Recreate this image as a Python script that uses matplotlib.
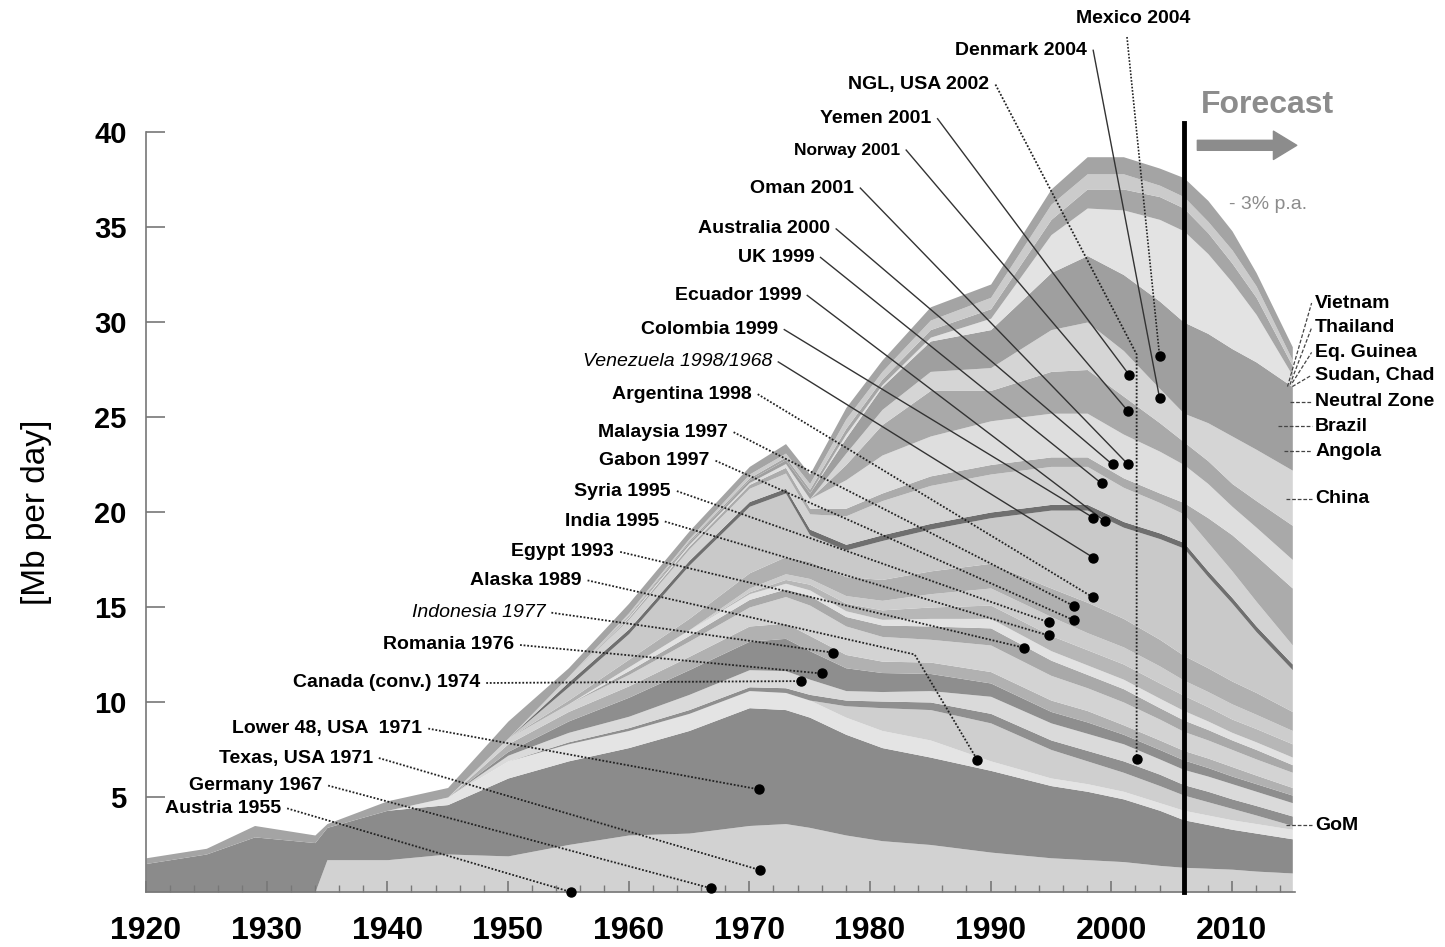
import numpy as np
import matplotlib.pyplot as plt
from matplotlib.patches import FancyArrowPatch

plt.rcParams['font.family'] = ['Liberation Sans', 'DejaVu Sans']

years = [1920, 1925, 1929, 1934, 1935, 1940, 1945, 1950, 1955, 1960, 1965, 1970, 1973,
         1975, 1978, 1981, 1985, 1990, 1995, 1998, 2001, 2004, 2006, 2008, 2010, 2012, 2015]

# upper edge of every band in Mb per day, bottom band first
texas = [0, 0, 0, 0, 1.7, 1.7, 2.0, 1.9, 2.5, 3.0, 3.1, 3.5, 3.6,
         3.4, 3.0, 2.7, 2.5, 2.1, 1.8, 1.7, 1.6, 1.4, 1.3, 1.25, 1.2, 1.1, 1.0]
lower48 = [1.5, 2.0, 2.9, 2.6, 3.4, 4.3, 4.6, 6.0, 6.9, 7.6, 8.5, 9.7, 9.6,
           9.2, 8.3, 7.6, 7.1, 6.4, 5.6, 5.3, 4.9, 4.3, 3.8, 3.55, 3.3, 3.1, 2.8]
germany = [1.5, 2.0, 2.9, 2.6, 3.4, 4.3, 5.0, 6.9, 7.8, 8.5, 9.4, 10.6, 10.5,
           10.1, 9.2, 8.5, 8.0, 6.9, 6.0, 5.7, 5.3, 4.7, 4.3, 4.05, 3.8, 3.6, 3.3]
alaska = [1.5, 2.0, 2.9, 2.6, 3.4, 4.3, 5.0, 6.9, 7.8, 8.5, 9.4, 10.6, 10.5,
          10.1, 9.8, 9.7, 9.6, 8.9, 7.5, 6.9, 6.3, 5.6, 5.1, 4.75, 4.4, 4.05, 3.5]
gom = [1.5, 2.0, 2.9, 2.6, 3.4, 4.3, 5.0, 6.9, 7.9, 8.65, 9.6, 10.8, 10.75,
       10.4, 10.1, 10.05, 10.0, 9.4, 8.0, 7.45, 6.9, 6.2, 5.65, 5.3, 4.9, 4.55, 4.0]
austria = [1.5, 2.0, 2.9, 2.6, 3.4, 4.3, 5.0, 7.2, 8.4, 9.25, 10.4, 11.7, 11.65,
           11.2, 10.6, 10.55, 10.6, 10.3, 8.9, 8.35, 7.8, 7.0, 6.45, 6.1, 5.7, 5.3, 4.7]
canada = [1.5, 2.0, 2.9, 2.6, 3.4, 4.3, 5.0, 7.4, 9.0, 10.25, 11.7, 13.2, 13.35,
          12.7, 11.8, 11.55, 11.5, 11.0, 9.5, 8.95, 8.3, 7.5, 6.95, 6.55, 6.1, 5.7, 5.1]
romania = [1.5, 2.0, 2.9, 2.6, 3.4, 4.3, 5.0, 7.8, 9.5, 10.85, 12.4, 14.0, 14.15,
           13.5, 12.5, 12.15, 12.1, 11.6, 10.1, 9.55, 8.8, 8.0, 7.45, 7.05, 6.6, 6.15, 5.5]
indonesia = [1.5, 2.0, 2.9, 2.6, 3.4, 4.3, 5.0, 8.1, 9.9, 11.45, 13.2, 15.0, 15.55,
             15.1, 14.0, 13.45, 13.3, 13.0, 11.4, 10.75, 10.0, 9.1, 8.45, 8.0, 7.5, 7.0, 6.3]
egypt = [1.5, 2.0, 2.9, 2.6, 3.4, 4.3, 5.0, 8.1, 9.9, 11.65, 13.5, 15.4, 15.95,
         15.6, 14.5, 14.05, 14.0, 13.9, 12.2, 11.45, 10.7, 9.7, 9.05, 8.55, 8.0, 7.5, 6.7]
peru = [1.5, 2.0, 2.9, 2.6, 3.4, 4.3, 5.0, 8.1, 9.9, 11.85, 13.8, 15.7, 16.25,
        15.9, 14.8, 14.35, 14.4, 14.4, 12.7, 11.95, 11.2, 10.2, 9.55, 9.0, 8.4, 7.9, 7.1]
india = [1.5, 2.0, 2.9, 2.6, 3.4, 4.3, 5.0, 8.1, 9.9, 11.85, 13.8, 15.8, 16.45,
         16.2, 15.2, 14.85, 15.0, 15.1, 13.5, 12.75, 12.0, 11.0, 10.35, 9.75, 9.1, 8.6, 7.8]
syria_gabon = [1.5, 2.0, 2.9, 2.6, 3.4, 4.3, 5.0, 8.1, 9.9, 11.85, 13.8, 16.0, 16.75,
               16.5, 15.6, 15.35, 15.7, 16.0, 14.5, 13.65, 12.9, 11.9, 11.15, 10.55, 9.9,
               9.35, 8.5]
malaysia_arg = [1.5, 2.0, 2.9, 2.6, 3.4, 4.3, 5.0, 8.1, 10.1, 12.25, 14.4, 16.8, 17.65,
                17.4, 16.6, 16.45, 16.9, 17.3, 16.0, 15.25, 14.4, 13.3, 12.45, 11.8, 11.1,
                10.5, 9.5]
venezuela = [1.5, 2.0, 2.9, 2.6, 3.4, 4.3, 5.0, 8.1, 10.8, 13.6, 17.2, 20.3, 21.0,
             18.8, 18.0, 18.5, 19.1, 19.7, 20.1, 20.1, 19.2, 18.6, 18.1, 16.6, 15.2, 13.7, 11.7]
trinidad = [1.5, 2.0, 2.9, 2.6, 3.4, 4.3, 5.0, 8.1, 11.05, 13.85, 17.45, 20.55, 21.25,
            19.1, 18.3, 18.8, 19.4, 20.0, 20.4, 20.4, 19.5, 18.9, 18.4, 16.9, 15.5, 14.0, 12.0]
colombia_ecu = [1.5, 2.0, 2.9, 2.6, 3.4, 4.3, 5.0, 8.1, 11.35, 14.35, 18.05, 21.25, 22.05,
                19.9, 19.8, 20.6, 21.4, 22.0, 22.4, 22.4, 21.3, 20.5, 19.9, 18.4, 16.9,
                15.3, 13.0]
brunei = [1.5, 2.0, 2.9, 2.6, 3.4, 4.3, 5.0, 8.1, 11.35, 14.45, 18.2, 21.45, 22.35,
          20.2, 20.2, 21.0, 21.9, 22.5, 22.9, 22.9, 21.8, 21.0, 20.5, 19.7, 18.8, 17.7, 16.0]
australia_oman = [1.5, 2.0, 2.9, 2.6, 3.4, 4.3, 5.0, 8.1, 11.35, 14.5, 18.3, 21.55, 22.55,
                  20.7, 21.7, 23.0, 24.0, 24.8, 25.2, 25.2, 24.1, 23.2, 22.5, 21.5, 20.3,
                  19.2, 17.5]
uk = [1.5, 2.0, 2.9, 2.6, 3.4, 4.3, 5.0, 8.1, 11.35, 14.5, 18.3, 21.55, 22.55,
      20.7, 22.5, 24.6, 26.4, 26.4, 27.4, 27.5, 26.1, 24.7, 23.7, 22.7, 21.5, 20.6, 19.3]
norway = [1.5, 2.0, 2.9, 2.6, 3.4, 4.3, 5.0, 8.1, 11.35, 14.5, 18.3, 21.55, 22.55,
          20.7, 23.1, 25.4, 27.4, 27.6, 29.6, 30.0, 28.5, 26.5, 25.2, 24.7, 24.0, 23.3, 22.2]
mexico_den = [1.5, 2.0, 2.9, 2.6, 3.4, 4.3, 5.0, 8.1, 11.35, 14.55, 18.4, 21.7, 22.75,
              21.0, 23.9, 26.6, 29.0, 29.6, 32.6, 33.5, 32.5, 31.1, 30.0, 29.4, 28.6,
              27.9, 26.6]
ngl_yemen = [1.5, 2.0, 2.9, 2.6, 3.4, 4.3, 5.0, 8.1, 11.35, 14.55, 18.4, 21.7, 22.75,
             21.0, 24.1, 26.7, 29.2, 30.2, 34.6, 36.0, 35.9, 35.4, 34.8, 33.6, 32.1, 30.4, 27.2]
china = [1.5, 2.0, 2.9, 2.6, 3.4, 4.3, 5.0, 8.1, 11.35, 14.6, 18.5, 21.8, 22.9,
         21.2, 24.4, 27.0, 29.6, 30.7, 35.4, 37.0, 37.0, 36.6, 36.0, 34.7, 33.1, 31.3, 27.7]
angola_brazil = [1.5, 2.0, 2.9, 2.6, 3.4, 4.3, 5.0, 8.1, 11.35, 14.7, 18.6, 22.0, 23.1,
                 21.5, 24.9, 27.4, 30.1, 31.3, 36.2, 37.8, 37.8, 37.2, 36.6, 35.3, 33.8,
                 31.9, 28.0]
total = [1.8, 2.3, 3.5, 3.0, 3.6, 4.8, 5.5, 9.0, 11.8, 15.2, 19.0, 22.4, 23.6,
         22.0, 25.5, 28.0, 30.8, 32.0, 37.0, 38.7, 38.7, 38.1, 37.6, 36.4, 34.8, 32.6, 28.7]

band_edges = [texas, lower48, germany, alaska, gom, austria, canada, romania,
              indonesia, egypt, peru, india, syria_gabon, malaysia_arg, venezuela,
              trinidad, colombia_ecu, brunei, australia_oman, uk, norway,
              mexico_den, ngl_yemen, china, angola_brazil, total]
band_colors = ['#d2d2d2', '#8b8b8b', '#e4e4e4', '#cfcfcf', '#8f8f8f', '#dadada',
               '#8e8e8e', '#b1b1b1', '#d3d3d3', '#a9a9a9', '#e2e2e2', '#b7b7b7',
               '#cdcdcd', '#b0b0b0', '#c9c9c9', '#6f6f6f', '#d3d3d3', '#ababab',
               '#dedede', '#a9a9a9', '#d5d5d5', '#9f9f9f', '#e3e3e3', '#a6a6a6',
               '#cbcbcb', '#a4a4a4']

# peak labels: name, peak year and the value where the dot sits
peak_names = ['Austria 1955', 'Germany 1967', 'Texas, USA 1971', 'Lower 48, USA  1971',
              'Canada (conv.) 1974', 'Romania 1976', 'Indonesia 1977', 'Alaska 1989',
              'Egypt 1993', 'India 1995', 'Syria 1995', 'Gabon 1997', 'Malaysia 1997',
              'Argentina 1998', 'Venezuela 1998/1968', 'Colombia 1999', 'Ecuador 1999',
              'UK 1999', 'Australia 2000', 'Oman 2001', 'Norway 2001', 'Yemen 2001',
              'NGL, USA 2002', 'Denmark 2004']
peak_x = [1955.2, 1966.8, 1970.9, 1970.8, 1974.3, 1976.0, 1976.9, 1988.9,
          1992.8, 1994.8, 1994.8, 1996.9, 1996.9, 1998.5, 1998.5, 1998.5, 1999.5,
          1999.2, 2000.1, 2001.4, 2001.4, 2001.5, 2002.1, 2004.0]
peak_y = [0.0, 0.2, 1.15, 5.4, 11.1, 11.5, 12.6, 6.95,
          12.85, 13.5, 14.2, 14.3, 15.05, 15.5, 17.6, 19.7, 19.5,
          21.5, 22.5, 22.5, 25.3, 27.2, 7.0, 26.0]

# layout of the label texts (right end of text, vertical centre)
text_x = [1931.2, 1934.6, 1938.8, 1942.9, 1947.7, 1950.5, 1953.1, 1956.1,
          1958.8, 1962.5, 1963.5, 1966.7, 1968.2, 1970.2, 1971.9, 1972.4, 1974.3,
          1975.4, 1976.7, 1978.7, 1982.5, 1985.1, 1989.9, 1998.0]
text_y = [4.4, 5.6, 7.05, 8.6, 11.0, 13.0, 14.7, 16.4,
          17.9, 19.5, 21.1, 22.7, 24.2, 26.2, 27.9, 29.6, 31.4,
          33.4, 34.9, 37.05, 39.05, 40.7, 42.5, 44.3]
dotted = [True] * 14 + [False] * 8 + [True, False]
italic = ['Indonesia 1977', 'Venezuela 1998/1968']
bends = {'Alaska 1989': (1983.7, 12.5), 'NGL, USA 2002': (2002.1, 28.3)}

right_names = ['Vietnam', 'Thailand', 'Eq. Guinea', 'Sudan, Chad', 'Neutral Zone',
               'Brazil', 'Angola', 'China', 'GoM']
right_y = [31.0, 29.7, 28.4, 27.2, 25.8, 24.5, 23.2, 20.7, 3.5]
right_from = [(2014.6, 26.6), (2014.8, 26.7), (2015.0, 26.8), (2015.0, 26.6),
              (2014.8, 25.8), (2013.8, 24.5), (2014.3, 23.2), (2014.5, 20.7),
              (2014.5, 3.5)]

forecast_start = 2006

fig = plt.figure(figsize=(14.45, 9.47), dpi=100)
ax = fig.add_axes([0.101, 0.0581, 0.795, 0.8025])

lower = np.zeros(len(years))
for edge, col in zip(band_edges, band_colors):
    ax.fill_between(years, lower, edge, color=col, lw=0)
    lower = np.array(edge)

ax.plot([forecast_start, forecast_start], [0, 40.5], color='black', lw=3.5,
        clip_on=False, zorder=4)

# leader lines and dots
for name, px, py, tx, ty, dot in zip(peak_names, peak_x, peak_y, text_x, text_y, dotted):
    xs = [tx + 0.5]
    ys = [ty]
    if name in bends:
        xs.append(bends[name][0])
        ys.append(bends[name][1])
    xs.append(px)
    ys.append(py)
    if dot:
        ax.plot(xs, ys, color='#222222', lw=1.3, ls=(0, (1, 1)), clip_on=False, zorder=5)
    else:
        ax.plot(xs, ys, color='#333333', lw=1.0, clip_on=False, zorder=5)
    ax.plot(px, py, 'o', color='black', ms=6.5, clip_on=False, zorder=6)
    size = 12.5 if name.startswith('Norway') else 14
    style = 'italic' if name in italic else 'normal'
    weight = 'normal' if name in italic else 'bold'
    ax.text(tx, ty, name, ha='right', va='center', fontsize=size, fontweight=weight,
            fontstyle=style, clip_on=False)

# Mexico label sits above its line
ax.plot([2001.3, 2004.0], [45.0, 28.2], color='#222222', lw=1.2, ls=(0, (1, 1)),
        clip_on=False, zorder=5)
ax.plot(2004.0, 28.2, 'o', color='black', ms=6.5, clip_on=False, zorder=6)
ax.text(2001.8, 46.0, 'Mexico 2004', ha='center', va='center', fontsize=14,
        fontweight='bold', clip_on=False)

for name, ry, (fx, fy) in zip(right_names, right_y, right_from):
    ax.plot([fx, 2016.6], [fy, ry], color='#444444', lw=0.9, ls=(0, (3, 1.5)),
            clip_on=False)
    ax.text(2016.9, ry, name, ha='left', va='center', fontsize=14, fontweight='bold',
            clip_on=False)

# forecast marker
ax.text(2012.9, 41.4, 'Forecast', ha='center', va='center', fontsize=23,
        fontweight='bold', color='#8c8c8c', clip_on=False)
arrow = FancyArrowPatch((2006.9, 39.3), (2015.6, 39.3),
                        arrowstyle='simple,head_length=1.4,head_width=1.7,tail_width=0.6',
                        mutation_scale=12, color='#8c8c8c', clip_on=False)
ax.add_patch(arrow)
ax.text(2013.0, 36.2, '- 3% p.a.', ha='center', va='center', fontsize=14,
        color='#8c8c8c', clip_on=False)

ax.set_xlim(1920, 2015.2)
ax.set_ylim(0, 40)
ax.set_xticks(range(1920, 2011, 10))
ax.set_xticks(range(1920, 2016, 2), minor=True)
ax.set_yticks(range(5, 41, 5))
for s in ['top', 'right']:
    ax.spines[s].set_visible(False)
for s in ['left', 'bottom']:
    ax.spines[s].set_color('#777777')
    ax.spines[s].set_linewidth(1.2)
ax.tick_params(axis='x', which='major', direction='in', length=8, width=1.2,
               color='#777777', pad=17, labelsize=23)
ax.tick_params(axis='x', which='minor', direction='in', length=5, width=1.0,
               color='#777777')
ax.tick_params(axis='y', direction='in', length=14, width=1.2, color='#777777',
               pad=14, labelsize=21)
for lab in ax.get_xticklabels() + ax.get_yticklabels():
    lab.set_fontweight('bold')
ax.set_ylabel('[Mb per day]', fontsize=24, labelpad=30)

fig.savefig('out.png', dpi=100)
